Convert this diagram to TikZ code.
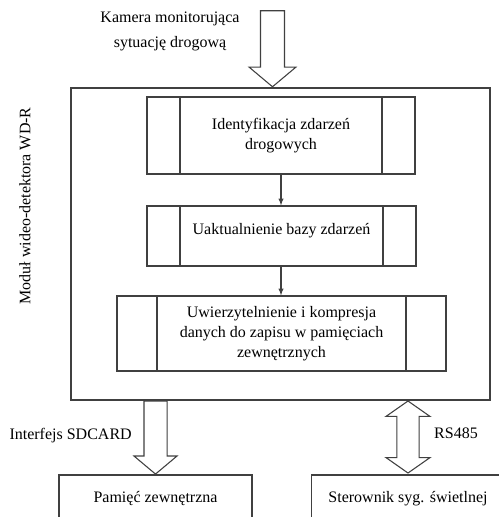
\documentclass[tikz,border=0pt]{standalone}
\usepackage{fontspec}
\setmainfont{Liberation Serif}
\usetikzlibrary{arrows,shapes.arrows}
\tikzstyle{box}=[draw=black!75,line width=0.8pt,inner sep=0pt,font=\fontsize{12}{15}\selectfont]
\tikzstyle{lbl}=[inner sep=0pt,font=\fontsize{12}{15}\selectfont]
\tikzstyle{block}=[draw=black!75,line width=0.8pt,fill=white,inner ysep=0pt,single arrow,single arrow tip angle=100,shape border rotate=270]
\tikzset{proc/.style={box,align=center,path picture={
  \draw[black!75,line width=1.6pt] ([xshift=#1]path picture bounding box.north west) -- ([xshift=#1]path picture bounding box.south west);
  \draw[black!75,line width=1.6pt] ([xshift=-#1]path picture bounding box.north east) -- ([xshift=-#1]path picture bounding box.south east);}}}

\begin{document}
\begin{tikzpicture}[x=0.75pt,y=-0.75pt]
        \clip (0,0) rectangle (499,517);
        \node at (280.5,244) [box,minimum width=314.25pt,minimum height=234pt] (wdr) {};
        \node at (281,135.5) [proc=24.75pt,minimum width=201pt,minimum height=57.75pt] (ident) {Identyfikacja zdarzeń\\drogowych};
        \node at (281.5,236) [proc=24.75pt,minimum width=201.75pt,minimum height=45pt,text depth=10pt] (baza) {Uaktualnienie bazy zdarzeń};
        \node at (281.5,333.5) [proc=30pt,minimum width=246.75pt,minimum height=56.25pt] (kompr) {Uwierzytelnienie i kompresja\\danych do zapisu w pamięciach\\zewnętrznych};
        \node at (155.5,499) [box,minimum width=144.75pt,minimum height=36pt] (pamiec) {Pamięć zewnętrzna};
        \node at (408,499) [box,minimum width=144.75pt,minimum height=36pt] (sterownik) {Sterownik syg. świetlnej};
        \node at (170,31.5) [lbl,align=center] (kamlbl) {Kamera monitorująca\\[3.75pt]sytuację drogową};
        \node at (25,206) [lbl,rotate=90] (modlbl) {Moduł wideo-detektora WD-R};
        \node at (132,436) [lbl,anchor=east] (sdlbl) {Interfejs SDCARD};
        \node at (456,433) [lbl] (rslbl) {RS485};
        \node at ([xshift=-6pt]wdr.north) [block,anchor=tip,minimum height=57pt,inner xsep=8.6pt,single arrow head extend=8.6pt] (kamera) {};
        \node at (pamiec.north |- wdr.south) [block,anchor=tail,minimum height=54.75pt,inner xsep=8.25pt,single arrow head extend=7.5pt] (sdcard) {};
        \node at (sterownik.north |- 0,437) [draw=black!75,line width=0.8pt,fill=white,inner ysep=0pt,inner xsep=7.9pt,double arrow,double arrow tip angle=110,shape border rotate=90,minimum height=54pt,double arrow head extend=8.25pt] (rs485) {};
        \draw [-latex,black!75,line width=0.8pt] (ident.south) to (ident.south |- baza.north);
        \draw [-latex,black!75,line width=0.8pt] (baza.south -| ident.south) to (ident.south |- kompr.north);
      \end{tikzpicture}
\end{document}
